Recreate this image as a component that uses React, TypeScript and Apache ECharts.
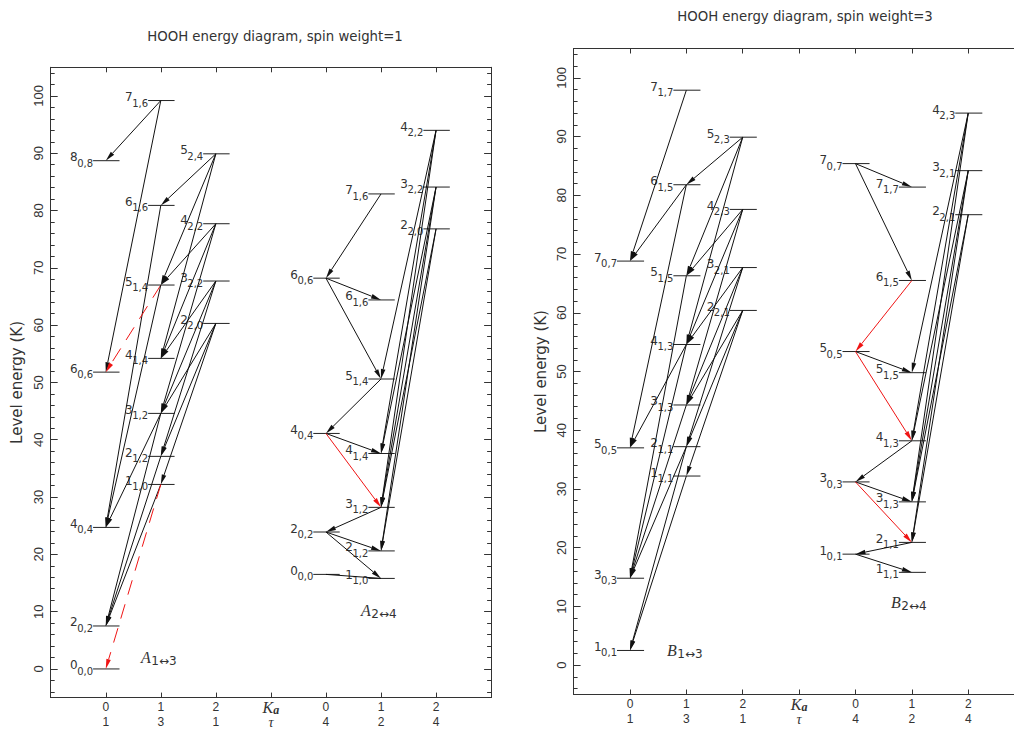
import React, { useEffect, useRef } from "react";
import * as echarts from "echarts";

// A level: [Ka column inside its group, energy in K, J, "Ka,Kc"]
type Level = [number, number, string, string];
// A transition: [upper level, lower level, style] (0 black, 1 red, 2 red dashed, 3 plain line)
type Link = [string, string, number];

const A13_LEVELS: Level[] = [
  [0, 0.0, "0", "0,0"],
  [0, 7.5, "2", "0,2"],
  [0, 24.7, "4", "0,4"],
  [0, 51.8, "6", "0,6"],
  [0, 88.7, "8", "0,8"],
  [1, 32.2, "1", "1,0"],
  [1, 37.1, "2", "1,2"],
  [1, 44.6, "3", "1,2"],
  [1, 54.2, "4", "1,4"],
  [1, 67.0, "5", "1,4"],
  [1, 80.9, "6", "1,6"],
  [1, 99.2, "7", "1,6"],
  [2, 60.3, "2", "2,0"],
  [2, 67.7, "3", "2,2"],
  [2, 77.7, "4", "2,2"],
  [2, 89.9, "5", "2,4"],
];

const A24_LEVELS: Level[] = [
  [0, 16.5, "0", "0,0"],
  [0, 23.9, "2", "0,2"],
  [0, 41.1, "4", "0,4"],
  [0, 68.2, "6", "0,6"],
  [1, 15.8, "1", "1,0"],
  [1, 20.6, "2", "1,2"],
  [1, 28.2, "3", "1,2"],
  [1, 37.6, "4", "1,4"],
  [1, 50.6, "5", "1,4"],
  [1, 64.4, "6", "1,6"],
  [1, 82.9, "7", "1,6"],
  [2, 76.8, "2", "2,0"],
  [2, 84.1, "3", "2,2"],
  [2, 94.0, "4", "2,2"],
];

const B13_LEVELS: Level[] = [
  [0, 2.5, "1", "0,1"],
  [0, 14.8, "3", "0,3"],
  [0, 37.0, "5", "0,5"],
  [0, 68.8, "7", "0,7"],
  [1, 32.2, "1", "1,1"],
  [1, 37.2, "2", "1,1"],
  [1, 44.3, "3", "1,3"],
  [1, 54.6, "4", "1,3"],
  [1, 66.3, "5", "1,5"],
  [1, 81.8, "6", "1,5"],
  [1, 97.9, "7", "1,7"],
  [2, 60.4, "2", "2,1"],
  [2, 67.7, "3", "2,1"],
  [2, 77.6, "4", "2,3"],
  [2, 89.9, "5", "2,3"],
];

const B24_LEVELS: Level[] = [
  [0, 18.9, "1", "0,1"],
  [0, 31.2, "3", "0,3"],
  [0, 53.4, "5", "0,5"],
  [0, 85.4, "7", "0,7"],
  [1, 15.8, "1", "1,1"],
  [1, 20.9, "2", "1,1"],
  [1, 27.8, "3", "1,3"],
  [1, 38.2, "4", "1,3"],
  [1, 49.8, "5", "1,5"],
  [1, 65.5, "6", "1,5"],
  [1, 81.4, "7", "1,7"],
  [2, 76.7, "2", "2,1"],
  [2, 84.2, "3", "2,1"],
  [2, 94.0, "4", "2,3"],
];

const A13_LINKS: Link[] = [
  ["7_1,6", "8_0,8", 0],
  ["7_1,6", "6_0,6", 0],
  ["6_1,6", "4_0,4", 0],
  ["5_1,4", "6_0,6", 2],
  ["5_1,4", "4_0,4", 0],
  ["3_1,2", "4_0,4", 0],
  ["3_1,2", "2_0,2", 0],
  ["2_1,2", "2_0,2", 0],
  ["1_1,0", "2_0,2", 0],
  ["1_1,0", "0_0,0", 2],
  ["5_2,4", "6_1,6", 0],
  ["5_2,4", "5_1,4", 0],
  ["5_2,4", "4_1,4", 0],
  ["4_2,2", "5_1,4", 0],
  ["4_2,2", "4_1,4", 0],
  ["4_2,2", "3_1,2", 0],
  ["3_2,2", "4_1,4", 0],
  ["3_2,2", "3_1,2", 0],
  ["3_2,2", "2_1,2", 0],
  ["2_2,0", "3_1,2", 0],
  ["2_2,0", "2_1,2", 0],
  ["2_2,0", "1_1,0", 0],
];

const A24_LINKS: Link[] = [
  ["7_1,6", "6_0,6", 0],
  ["6_0,6", "6_1,6", 0],
  ["6_0,6", "5_1,4", 0],
  ["5_1,4", "4_0,4", 0],
  ["4_0,4", "4_1,4", 0],
  ["4_0,4", "3_1,2", 1],
  ["3_1,2", "2_0,2", 0],
  ["2_0,2", "2_1,2", 0],
  ["2_0,2", "1_1,0", 0],
  ["0_0,0", "1_1,0", 3],
  ["4_2,2", "5_1,4", 0],
  ["4_2,2", "4_1,4", 0],
  ["4_2,2", "3_1,2", 0],
  ["3_2,2", "4_1,4", 0],
  ["3_2,2", "3_1,2", 0],
  ["3_2,2", "2_1,2", 0],
  ["2_2,0", "3_1,2", 0],
  ["2_2,0", "2_1,2", 0],
];

const B13_LINKS: Link[] = [
  ["7_1,7", "7_0,7", 0],
  ["6_1,5", "7_0,7", 0],
  ["6_1,5", "5_0,5", 0],
  ["4_1,3", "5_0,5", 0],
  ["5_1,5", "3_0,3", 0],
  ["4_1,3", "3_0,3", 0],
  ["3_1,3", "3_0,3", 0],
  ["2_1,1", "3_0,3", 0],
  ["2_1,1", "1_0,1", 0],
  ["1_1,1", "1_0,1", 0],
  ["5_2,3", "6_1,5", 0],
  ["5_2,3", "5_1,5", 0],
  ["5_2,3", "4_1,3", 0],
  ["4_2,3", "5_1,5", 0],
  ["4_2,3", "4_1,3", 0],
  ["4_2,3", "3_1,3", 0],
  ["3_2,1", "4_1,3", 0],
  ["3_2,1", "3_1,3", 0],
  ["3_2,1", "2_1,1", 0],
  ["2_2,1", "3_1,3", 0],
  ["2_2,1", "2_1,1", 0],
  ["2_2,1", "1_1,1", 0],
];

const B24_LINKS: Link[] = [
  ["7_0,7", "7_1,7", 0],
  ["7_0,7", "6_1,5", 0],
  ["6_1,5", "5_0,5", 1],
  ["5_0,5", "5_1,5", 0],
  ["5_0,5", "4_1,3", 1],
  ["4_1,3", "3_0,3", 0],
  ["3_0,3", "3_1,3", 0],
  ["3_0,3", "2_1,1", 1],
  ["2_1,1", "1_0,1", 0],
  ["1_0,1", "1_1,1", 0],
  ["4_2,3", "5_1,5", 0],
  ["4_2,3", "4_1,3", 0],
  ["4_2,3", "3_1,3", 0],
  ["3_2,1", "4_1,3", 0],
  ["3_2,1", "3_1,3", 0],
  ["3_2,1", "2_1,1", 0],
  ["2_2,1", "3_1,3", 0],
  ["2_2,1", "2_1,1", 0],
];

// Column captions under the x axis: Ka on the first row, tau on the second
const KA_ROW = ["0", "1", "2", "Ka", "0", "1", "2"];
const TAU_ROW = ["1", "3", "1", "τ", "4", "2", "4"];

const Y_MAJOR = [0, 10, 20, 30, 40, 50, 60, 70, 80, 90, 100];
const Y_MINOR = [
  -4, -2, 2, 4, 6, 8, 12, 14, 16, 18, 22, 24, 26, 28, 32, 34, 36, 38, 42, 44, 46, 48,
  52, 54, 56, 58, 62, 64, 66, 68, 72, 74, 76, 78, 82, 84, 86, 88, 92, 94, 96, 98, 102, 104,
];

const TITLES = ["HOOH energy diagram, spin weight=1", "HOOH energy diagram, spin weight=3"];

const SANS = '"DejaVu Sans", sans-serif';
const NUM = '"Liberation Sans", Arial, sans-serif';
const SERIF = '"Liberation Serif", "DejaVu Serif", serif';
const INK = "#222";
const TEXT = "#333";
const RED = "#f01414";

let measureCtx: CanvasRenderingContext2D | null = null;
function textWidth(s: string, font: string): number {
  if (!measureCtx) measureCtx = document.createElement("canvas").getContext("2d");
  if (!measureCtx) return s.length * 6;
  measureCtx.font = font;
  return measureCtx.measureText(s).width;
}

type Group = { levels: Level[]; links: Link[]; offset: number };

function panelSeries(panel: number, groups: Group[]) {
  const levelData: number[][] = [];
  const labels: [string, string][] = [];
  const linkData: number[][] = [];
  groups.forEach((g) => {
    const pos = new Map<string, [number, number]>();
    g.levels.forEach((l) => {
      const x = l[0] + g.offset;
      pos.set(`${l[2]}_${l[3]}`, [x, l[1]]);
      levelData.push([x, l[1], labels.length]);
      labels.push([l[2], l[3]]);
    });
    g.links.forEach(([from, to, kind]) => {
      const a = pos.get(from);
      const b = pos.get(to);
      if (a && b) linkData.push([a[0], a[1], b[0], b[1], kind]);
    });
  });

  const mainFont = `12px ${SANS}`;
  const subFont = `10px ${SANS}`;

  const levelSeries = {
    type: "custom",
    xAxisIndex: panel * 2,
    yAxisIndex: panel * 4,
    silent: true,
    z: 3,
    data: levelData,
    renderItem: (_p: any, api: any) => {
      const x = api.value(0);
      const e = api.value(1);
      const [j, sub] = labels[api.value(2)];
      const p0 = api.coord([x - 0.23, e]);
      const p1 = api.coord([x + 0.25, e]);
      const sw = textWidth(sub, subFont);
      return {
        type: "group",
        children: [
          {
            type: "line",
            shape: { x1: p0[0], y1: p0[1], x2: p1[0], y2: p1[1] },
            style: { stroke: INK, lineWidth: 1 },
          },
          {
            type: "text",
            x: p0[0],
            y: p0[1] + 2.5,
            style: { text: sub, font: subFont, fill: TEXT, align: "right", verticalAlign: "middle" },
          },
          {
            type: "text",
            x: p0[0] - sw + 0.5,
            y: p0[1] - 3.5,
            style: { text: j, font: mainFont, fill: TEXT, align: "right", verticalAlign: "middle" },
          },
        ],
      };
    },
  };

  const linkSeries = {
    type: "custom",
    xAxisIndex: panel * 2,
    yAxisIndex: panel * 4,
    silent: true,
    z: 4,
    data: linkData,
    renderItem: (_p: any, api: any) => {
      const a = api.coord([api.value(0), api.value(1)]);
      const b = api.coord([api.value(2), api.value(3)]);
      const kind = api.value(4);
      const color = kind === 1 || kind === 2 ? RED : "#111";
      const dx = b[0] - a[0];
      const dy = b[1] - a[1];
      const len = Math.hypot(dx, dy) || 1;
      const ux = dx / len;
      const uy = dy / len;
      const L = 10;
      const W = 2.3;
      const hx = b[0] - ux * L;
      const hy = b[1] - uy * L;
      const children: any[] = [
        {
          type: "line",
          shape: { x1: a[0], y1: a[1], x2: kind === 3 ? b[0] : hx, y2: kind === 3 ? b[1] : hy },
          style: { stroke: color, lineWidth: 1, lineDash: kind === 2 ? [15, 10] : null },
        },
      ];
      if (kind !== 3) {
        children.push({
          type: "polygon",
          shape: {
            points: [
              [b[0], b[1]],
              [hx - uy * W, hy + ux * W],
              [hx + uy * W, hy - ux * W],
            ],
          },
          style: { fill: color },
        });
      }
      return { type: "group", children };
    },
  };

  return [levelSeries, linkSeries];
}

function xAxes(grid: number) {
  const common = {
    type: "value",
    gridIndex: grid,
    min: -1,
    max: 7,
    interval: 1,
    splitLine: { show: false },
    axisLine: { show: true, onZero: false, lineStyle: { color: "#333", width: 1 } },
    axisTick: { show: true, inside: true, length: 5, lineStyle: { color: "#333" } },
  };
  return [
    {
      ...common,
      position: "bottom",
      axisLabel: {
        show: true,
        margin: 2,
        formatter: (v: number) => {
          const i = Math.round(v);
          if (i < 0 || i > 6) return "";
          if (KA_ROW[i] === "Ka") return "{k|K}{ka|a}\n{t|" + TAU_ROW[i] + "}";
          return `{d|${KA_ROW[i]}}\n{d|${TAU_ROW[i]}}`;
        },
        rich: {
          d: { fontFamily: NUM, fontSize: 12, lineHeight: 15, color: TEXT },
          k: { fontFamily: SERIF, fontStyle: "italic", fontSize: 16, lineHeight: 15, color: TEXT },
          ka: {
            fontFamily: SERIF,
            fontStyle: "italic",
            fontWeight: "bold",
            fontSize: 12,
            lineHeight: 9,
            padding: [6, 0, 0, 0],
            color: TEXT,
          },
          t: { fontFamily: SERIF, fontStyle: "italic", fontSize: 14, lineHeight: 15, color: TEXT },
        },
      },
    },
    { ...common, position: "top", axisLabel: { show: false } },
  ];
}

function yAxes(grid: number, nameGap: number) {
  const base = {
    type: "value",
    gridIndex: grid,
    min: -5,
    max: 105,
    splitLine: { show: false },
  };
  const major = { show: true, inside: true, length: 7, customValues: Y_MAJOR, lineStyle: { color: "#333" } };
  const minor = { show: true, inside: true, length: 4, customValues: Y_MINOR, lineStyle: { color: "#333" } };
  const noLine = { show: false, onZero: false };
  return [
    {
      ...base,
      position: "left",
      name: "Level energy (K)",
      nameLocation: "middle",
      nameGap,
      nameRotate: 90,
      nameTextStyle: { fontFamily: SANS, fontSize: 15, color: TEXT },
      axisLine: { show: true, onZero: false, lineStyle: { color: "#333", width: 1 } },
      axisTick: major,
      axisLabel: {
        show: true,
        customValues: Y_MAJOR,
        rotate: 90,
        margin: 6,
        fontFamily: NUM,
        fontSize: 13,
        color: TEXT,
      },
    },
    { ...base, position: "left", axisLine: noLine, axisTick: minor, axisLabel: { show: false } },
    {
      ...base,
      position: "right",
      axisLine: { show: true, onZero: false, lineStyle: { color: "#333", width: 1 } },
      axisTick: major,
      axisLabel: { show: false },
    },
    { ...base, position: "right", axisLine: noLine, axisTick: minor, axisLabel: { show: false } },
  ];
}

function tag(letter: string, sub: string, x: number, y: number) {
  const font = `italic 16px ${SERIF}`;
  const w = textWidth(letter, font);
  return [
    { type: "text", x, y, style: { text: letter, font, fill: TEXT, verticalAlign: "middle" } },
    {
      type: "text",
      x: x + w + 0.5,
      y: y + 4,
      style: { text: sub, font: `12px ${SANS}`, fill: TEXT, verticalAlign: "middle" },
    },
  ];
}

export default function App() {
  const ref = useRef<HTMLDivElement>(null);

  useEffect(() => {
    if (!ref.current) return;
    const chart = echarts.init(ref.current, null, { renderer: "svg" });
    const series = [
      ...panelSeries(0, [
        { levels: A13_LEVELS, links: A13_LINKS, offset: 0 },
        { levels: A24_LEVELS, links: A24_LINKS, offset: 4 },
      ]),
      ...panelSeries(1, [
        { levels: B13_LEVELS, links: B13_LINKS, offset: 0 },
        { levels: B24_LEVELS, links: B24_LINKS, offset: 4 },
      ]),
    ];
    chart.setOption({
      animation: false,
      backgroundColor: "#ffffff",
      title: [
        {
          text: TITLES[0],
          left: 270,
          top: 25,
          textAlign: "center",
          textStyle: { fontFamily: SANS, fontSize: 13.3, fontWeight: "normal", color: TEXT },
        },
        {
          text: TITLES[1],
          left: 800,
          top: 5,
          textAlign: "center",
          textStyle: { fontFamily: SANS, fontSize: 13.3, fontWeight: "normal", color: TEXT },
        },
      ],
      grid: [
        { left: 50.7, top: 67.3, width: 440.4, height: 630.3, outerBoundsMode: "none" },
        { left: 573.6, top: 48.5, width: 451, height: 646, outerBoundsMode: "none" },
      ],
      xAxis: [...xAxes(0), ...xAxes(1)],
      yAxis: [...yAxes(0, 26), ...yAxes(1, 25)],
      graphic: [
        ...tag("A", "1↔3", 141, 657),
        ...tag("A", "2↔4", 361, 610),
        ...tag("B", "1↔3", 667, 650),
        ...tag("B", "2↔4", 891, 602),
      ],
      series,
    });
    return () => chart.dispose();
  }, []);

  return (
    <div
      ref={ref}
      style={{ position: "fixed", left: 0, top: 0, width: 1014, height: 731, background: "#fff" }}
    />
  );
}
